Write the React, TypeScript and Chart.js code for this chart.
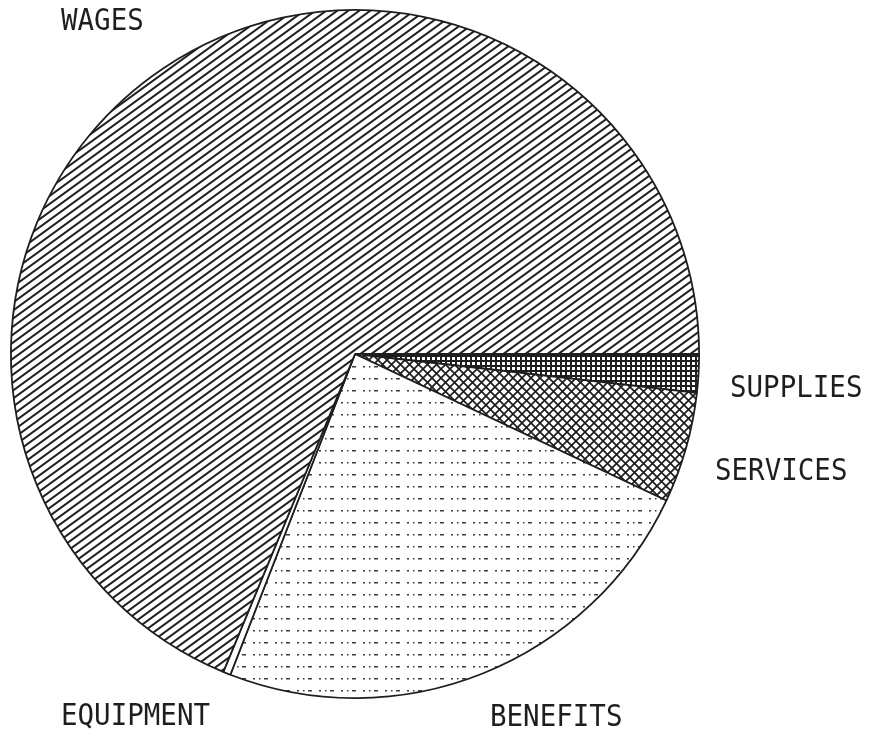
import React, { useEffect, useRef } from "react";
import { Chart, registerables } from "chart.js";

Chart.register(...registerables);

// Categories in clockwise order, starting at 3 o'clock
const categories = ["SUPPLIES", "SERVICES", "BENEFITS", "EQUIPMENT", "WAGES"];
// Share of total budget (%)
const shares = [1.8, 5.2, 23.9, 0.35, 68.75];
const patternKinds = ["grid", "cross", "dash", "blank", "diag"];

const INK = "#1e1e1e";

function makeTile(kind: string): HTMLCanvasElement {
  const c = document.createElement("canvas");
  let w = 10, h = 10;
  if (kind === "diag") { w = 11; h = 8; }
  if (kind === "cross") { w = 9; h = 9; }
  if (kind === "grid") { w = 5; h = 5; }
  if (kind === "dash") { w = 22; h = 12; }
  if (kind === "blank") { w = 4; h = 4; }
  c.width = w; c.height = h;
  const g = c.getContext("2d")!;
  g.fillStyle = "#fff";
  g.fillRect(0, 0, w, h);
  g.strokeStyle = INK;
  g.fillStyle = INK;
  if (kind === "diag") {
    g.lineWidth = 2;
    for (let k = -1; k <= 1; k++) {
      g.beginPath();
      g.moveTo(-w, h + k * h + h);
      g.lineTo(2 * w, k * h - h);
      g.stroke();
    }
  } else if (kind === "cross") {
    g.lineWidth = 1.7;
    for (let k = -1; k <= 1; k++) {
      g.beginPath();
      g.moveTo(k * w, 0); g.lineTo(k * w + w, h);
      g.moveTo(k * w, h); g.lineTo(k * w + w, 0);
      g.stroke();
    }
  } else if (kind === "grid") {
    g.fillRect(0, 0, w, 2);
    g.fillRect(0, 0, 2, h);
  } else if (kind === "dash") {
    g.fillStyle = "#3a3a3a";
    g.fillRect(0, 6, 4, 1.5);
    g.fillRect(11, 6, 2, 1.5);
    g.fillRect(17, 6, 1.5, 1.5);
  }
  return c;
}

const labelPlugin = {
  id: "plotterLabels",
  beforeDraw(chart: any) {
    const { ctx, width, height } = chart;
    ctx.save();
    ctx.fillStyle = "#fff";
    ctx.fillRect(0, 0, width, height);
    ctx.restore();
  },
  afterDraw(chart: any) {
    const { ctx } = chart;
    const anchors: Record<string, [number, number]> = {
      WAGES: [61, 30],
      SUPPLIES: [730, 397],
      SERVICES: [715, 480],
      EQUIPMENT: [61, 725],
      BENEFITS: [490, 726],
    };
    ctx.save();
    ctx.fillStyle = INK;
    ctx.font = "27.5px 'DejaVu Sans Mono'";
    ctx.textBaseline = "alphabetic";
    ctx.textAlign = "left";
    categories.forEach((name) => {
      const a = anchors[name];
      if (!a) return;
      ctx.save();
      ctx.translate(a[0], a[1]);
      ctx.scale(1, 1.1);
      ctx.fillText(name, 0, 0);
      ctx.restore();
    });
    ctx.restore();
  },
};

export default function App() {
  const ref = useRef<HTMLCanvasElement | null>(null);
  useEffect(() => {
    const canvas = ref.current;
    if (!canvas) return;
    const ctx = canvas.getContext("2d")!;
    const fills = patternKinds.map((k) => ctx.createPattern(makeTile(k), "repeat"));
    const chart = new Chart(canvas, {
      type: "pie",
      data: {
        labels: categories,
        datasets: [
          {
            data: shares,
            backgroundColor: fills as any,
            borderColor: INK,
            borderWidth: 1.8,
          },
        ],
      },
      options: {
        responsive: false,
        animation: false,
        devicePixelRatio: 1,
        rotation: 90,
        layout: { padding: { left: 10, top: 9, right: 169, bottom: 34 } },
        plugins: {
          legend: { display: false },
          tooltip: { enabled: false },
        },
      },
      plugins: [labelPlugin],
    });
    return () => chart.destroy();
  }, []);
  return (
    <div style={{ position: "fixed", left: 0, top: 0, width: 869, height: 733, background: "#fff" }}>
      <canvas ref={ref} width={869} height={733} style={{ display: "block" }} />
    </div>
  );
}
